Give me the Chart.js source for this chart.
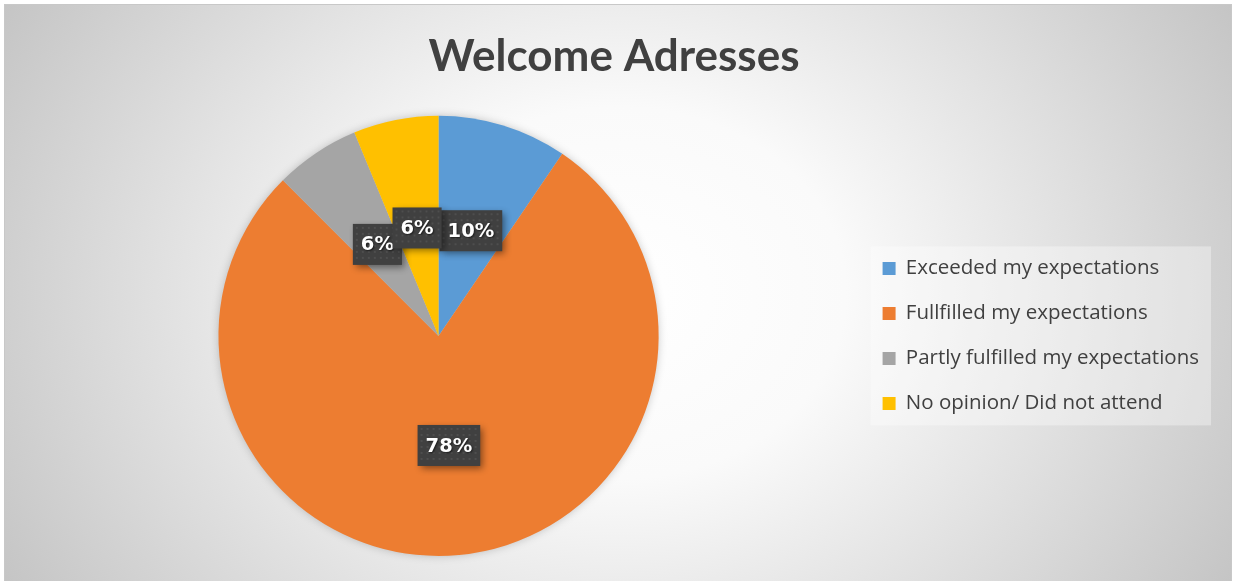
<!DOCTYPE html>
<html>
<head>
<meta charset="utf-8">
<title>Welcome Adresses</title>
<script src="https://cdn.jsdelivr.net/npm/chart.js@4/dist/chart.umd.min.js"></script>
<style>
  body { margin: 0; background: #fff; }
  #marco {
    position: absolute; left: 4px; top: 4px; width: 1226px; height: 576px;
    border: 1px solid #c8c8c8; border-bottom: none;
    background: radial-gradient(ellipse 760px 620px at 50% 50%, #ffffff 0%, #fafafa 30%, #bfbfbf 100%);
  }
</style>
</head>
<body>
<div id="marco"><canvas id="miGrafico"></canvas></div>
<script>
// Datos del gráfico
var categorias = [
  "Exceeded my expectations",
  "Fullfilled my expectations",
  "Partly fulfilled my expectations",
  "No opinion/ Did not attend"
];
var porcentajes = [9.5, 78, 6.25, 6.25];
var colores = ["#5B9BD5", "#ED7D31", "#A5A5A5", "#FFC000"];

Chart.defaults.font.family = "'Open Sans'";

// Sombra suave alrededor del pastel
var sombraPastel = {
  id: "sombraPastel",
  beforeDatasetsDraw: function (chart) {
    var arc = chart.getDatasetMeta(0).data[0];
    if (!arc) return;
    var ctx = chart.ctx;
    ctx.save();
    ctx.shadowColor = "rgba(0,0,0,0.25)";
    ctx.shadowBlur = 10;
    ctx.fillStyle = "#cccccc";
    ctx.beginPath();
    ctx.arc(arc.x, arc.y, arc.outerRadius - 1, 0, Math.PI * 2);
    ctx.fill();
    ctx.restore();
  }
};

// Fondo de la leyenda
var fondoLeyenda = {
  id: "fondoLeyenda",
  beforeDraw: function (chart) {
    var cajas = chart.legend && chart.legend.legendHitBoxes;
    if (!cajas || !cajas.length) return;
    var izq = cajas[0].left - 12;
    var der = 0;
    cajas.forEach(function (c) { der = Math.max(der, c.left + c.width); });
    der += 12;
    var primera = cajas[0], ultima = cajas[cajas.length - 1];
    var arriba = primera.top + primera.height / 2 - 22;
    var abajo = ultima.top + ultima.height / 2 + 22;
    var ctx = chart.ctx;
    ctx.save();
    ctx.fillStyle = "rgba(255,255,255,0.35)";
    ctx.fillRect(izq, arriba, der - izq, abajo - arriba);
    ctx.restore();
  }
};

// Etiquetas de porcentaje en cajas oscuras
var etiquetas = {
  id: "etiquetas",
  afterDatasetsDraw: function (chart) {
    var ctx = chart.ctx;
    var meta = chart.getDatasetMeta(0);
    var valores = chart.data.datasets[0].data;
    var total = valores.reduce(function (a, b) { return a + b; }, 0);
    ctx.save();
    ctx.font = "bold 19.5px 'DejaVu Sans'";
    ctx.textAlign = "center";
    ctx.textBaseline = "middle";
    meta.data.forEach(function (arc, i) {
      var pos = arc.tooltipPosition();
      var texto = Math.round(valores[i] / total * 100) + "%";
      var w = ctx.measureText(texto).width + 16;
      var h = 41;
      var x = pos.x - w / 2, y = pos.y - h / 2;
      ctx.shadowColor = "rgba(0,0,0,0.45)";
      ctx.shadowBlur = 7;
      ctx.shadowOffsetX = 3;
      ctx.shadowOffsetY = 3;
      ctx.fillStyle = "#404040";
      ctx.fillRect(x, y, w, h);
      ctx.shadowColor = "transparent";
      ctx.fillStyle = "#4e4e4e";
      for (var px = x + 3; px < x + w - 2; px += 6) {
        for (var py = y + 3; py < y + h - 2; py += 6) {
          ctx.fillRect(px, py, 2, 2);
        }
      }
      ctx.shadowColor = "rgba(0,0,0,0.6)";
      ctx.shadowBlur = 2;
      ctx.shadowOffsetX = 1;
      ctx.shadowOffsetY = 1;
      ctx.fillStyle = "#ffffff";
      ctx.fillText(texto, pos.x, pos.y + 1);
    });
    ctx.restore();
  }
};

var ctx = document.getElementById("miGrafico").getContext("2d");
var miGrafico = new Chart(ctx, {
  type: "pie",
  data: {
    labels: categorias,
    datasets: [{
      data: porcentajes,
      backgroundColor: colores,
      borderWidth: 0,
      hoverOffset: 0
    }]
  },
  options: {
    responsive: true,
    maintainAspectRatio: false,
    animation: false,
    layout: { padding: { left: 14, right: 22, top: 0, bottom: 25 } },
    plugins: {
      title: {
        display: true,
        text: "Welcome Adresses",
        color: "#404040",
        font: { family: "Lato", size: 44, weight: "bold" },
        padding: { top: 25, bottom: 33 }
      },
      legend: {
        position: "right",
        fullSize: false,
        labels: {
          boxWidth: 13,
          boxHeight: 13,
          padding: 24.5,
          color: "#404040",
          font: { size: 20.5 }
        }
      },
      tooltip: { enabled: false }
    }
  },
  plugins: [sombraPastel, fondoLeyenda, etiquetas]
});
</script>
</body>
</html>
